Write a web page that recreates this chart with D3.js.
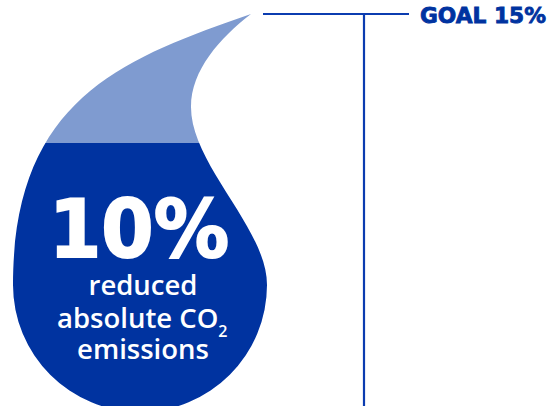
<!DOCTYPE html>
<meta charset="utf-8">
<style>
body { margin: 0; background: #fff; }
svg { display: block; }
</style>
<body>
<script src="https://d3js.org/d3.v7.min.js"></script>
<script>

// data
const achieved = 10;
const goal = 15;
const goalLabel = "GOAL 15%";
const valueLabel = "10%";
const captionLines = ["reduced", "absolute CO", "emissions"];

const width = 552;
const height = 406;

const dark = "#0033a0";
const light = "#7f9bd0";
const lineColor = "#0b3cb0";

const tip = {x: 251, y: 14};
const cx = 140, cy = 285, r = 127;

// percent -> vertical fill level inside the drop
const yScale = d3.scaleLinear()
    .domain([0, goal])
    .range([401, tip.y]);

const svg = d3.select("body").append("svg")
    .attr("width", width)
    .attr("height", height);

// drop outline
const drop = d3.path();
drop.moveTo(tip.x, tip.y);
drop.bezierCurveTo(121, 59, 13, 100, cx - r, cy);
drop.arc(cx, cy, r, Math.PI, 0, true);
drop.bezierCurveTo(267, 228, 191, 165, 191, 107);
drop.bezierCurveTo(191, 70, 220, 38, tip.x, tip.y);
drop.closePath();

svg.append("clipPath")
    .attr("id", "drop")
  .append("path")
    .attr("d", drop.toString());

const g = svg.append("g").attr("clip-path", "url(#drop)");

g.append("rect")
    .attr("x", 0).attr("y", 0)
    .attr("width", 300)
    .attr("height", yScale(achieved))
    .attr("fill", light);

g.append("rect")
    .attr("x", 0)
    .attr("y", yScale(achieved))
    .attr("width", 300)
    .attr("height", height + 20 - yScale(achieved))
    .attr("fill", dark);

// goal marker
const gy = yScale(goal);
svg.append("line")
    .attr("x1", 263).attr("x2", 409)
    .attr("y1", gy).attr("y2", gy)
    .attr("stroke", lineColor)
    .attr("stroke-width", 2.2);

svg.append("line")
    .attr("x1", 364).attr("x2", 364)
    .attr("y1", gy).attr("y2", height)
    .attr("stroke", lineColor)
    .attr("stroke-width", 2.2);

svg.append("text")
    .attr("x", 420)
    .attr("y", 23)
    .attr("fill", dark)
    .attr("stroke", dark)
    .attr("stroke-width", 0.8)
    .attr("font-family", "DejaVu Sans")
    .attr("font-weight", "bold")
    .attr("font-size", 21)
    .attr("textLength", 126)
    .attr("lengthAdjust", "spacingAndGlyphs")
    .text(goalLabel);

// labels inside the drop
svg.append("text")
    .attr("x", 139)
    .attr("y", 257)
    .attr("text-anchor", "middle")
    .attr("fill", "#fff")
    .attr("stroke", "#fff")
    .attr("stroke-width", 2)
    .attr("font-family", "DejaVu Sans")
    .attr("font-weight", "bold")
    .attr("font-size", 80)
    .attr("textLength", 180)
    .attr("lengthAdjust", "spacingAndGlyphs")
    .text(valueLabel);

const cap = svg.append("g")
    .attr("fill", "#fff")
    .attr("font-family", "Open Sans")
    .attr("font-weight", 600)
    .attr("font-size", 27.5);

cap.append("text")
    .attr("x", 143).attr("y", 295)
    .attr("text-anchor", "middle")
    .text(captionLines[0]);

const t2 = cap.append("text")
    .attr("x", 57).attr("y", 328);
t2.append("tspan").text(captionLines[1]);
t2.append("tspan")
    .attr("dy", 9)
    .attr("font-size", 16)
    .text("2");

cap.append("text")
    .attr("x", 143).attr("y", 359)
    .attr("text-anchor", "middle")
    .text(captionLines[2]);

</script>
